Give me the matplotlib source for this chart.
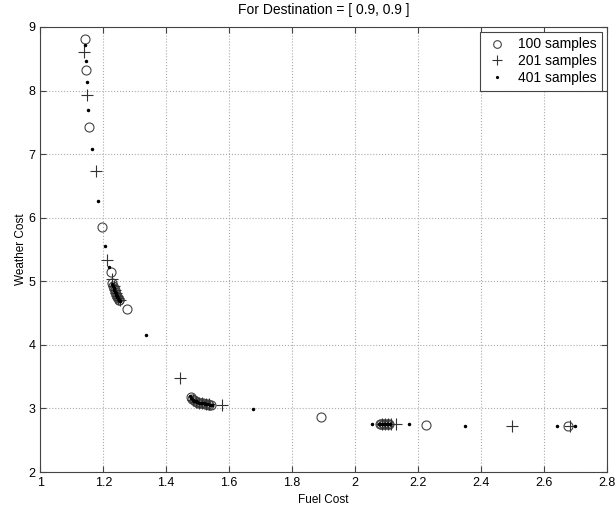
import matplotlib
matplotlib.use("Agg")
import matplotlib.pyplot as plt

plt.rcParams['font.family'] = ['Liberation Sans', 'DejaVu Sans']

# 100 samples (circles)
fuel_100 = [1.142, 1.144, 1.155, 1.197, 1.224, 1.228, 1.231, 1.234, 1.236, 1.238, 1.240,
            1.243, 1.245, 1.247, 1.249, 1.251, 1.274,
            1.478, 1.482, 1.487, 1.492, 1.497, 1.502, 1.507, 1.512, 1.517, 1.522,
            1.527, 1.532, 1.537, 1.542,
            1.891, 2.078, 2.083, 2.088, 2.093, 2.098, 2.103, 2.108, 2.225, 2.676]
weather_100 = [8.81, 8.32, 7.43, 5.86, 5.14, 4.97, 4.93, 4.89, 4.86, 4.83, 4.80,
               4.77, 4.75, 4.73, 4.71, 4.70, 4.56,
               3.18, 3.15, 3.13, 3.11, 3.10, 3.09, 3.09, 3.08, 3.08, 3.07,
               3.07, 3.07, 3.06, 3.06,
               2.86, 2.75, 2.75, 2.75, 2.75, 2.75, 2.75, 2.75, 2.74, 2.73]

# 201 samples (crosses)
fuel_201 = [1.140, 1.149, 1.176, 1.213, 1.229, 1.233, 1.237, 1.240, 1.244, 1.248, 1.252,
            1.445, 1.485, 1.495, 1.505, 1.515, 1.525, 1.535, 1.578,
            2.085, 2.095, 2.105, 2.115, 2.131, 2.497, 2.682]
weather_201 = [8.60, 7.93, 6.73, 5.34, 5.03, 4.92, 4.86, 4.81, 4.77, 4.73, 4.70,
               3.48, 3.14, 3.10, 3.09, 3.08, 3.07, 3.07, 3.05,
               2.75, 2.75, 2.75, 2.75, 2.75, 2.73, 2.73]

# 401 samples (dots)
fuel_401 = [1.142, 1.144, 1.147, 1.150, 1.163, 1.184, 1.205, 1.218,
            1.228, 1.231, 1.233, 1.235, 1.237, 1.239, 1.241, 1.243, 1.245, 1.247,
            1.249, 1.251, 1.253, 1.336,
            1.476, 1.480, 1.484, 1.489, 1.494, 1.499, 1.504, 1.509, 1.514, 1.519,
            1.524, 1.529, 1.534, 1.539, 1.544, 1.675,
            2.052, 2.075, 2.080, 2.085, 2.090, 2.095, 2.100, 2.105, 2.110,
            2.170, 2.349, 2.640, 2.697]
weather_401 = [8.71, 8.47, 8.13, 7.70, 7.08, 6.27, 5.55, 5.23,
               4.96, 4.92, 4.89, 4.86, 4.83, 4.81, 4.79, 4.77, 4.75, 4.73,
               4.71, 4.70, 4.69, 4.15,
               3.20, 3.17, 3.14, 3.12, 3.11, 3.10, 3.09, 3.09, 3.08, 3.08,
               3.07, 3.07, 3.07, 3.06, 3.06, 2.99,
               2.76, 2.75, 2.75, 2.75, 2.75, 2.75, 2.75, 2.75, 2.75,
               2.75, 2.73, 2.73, 2.72]

fig = plt.figure(figsize=(6.16, 5.12), dpi=100)
ax = fig.add_axes([0.0654, 0.0781, 0.92, 0.8692])

ax.plot(fuel_100, weather_100, 'o', mfc='none', mec='#444444', mew=0.8, ms=6.5, label='100 samples')
ax.plot(fuel_201, weather_201, '+', color='#333333', mew=0.8, ms=8, label='201 samples')
ax.plot(fuel_401, weather_401, '.', color='black', ms=3, label='401 samples')

ax.set_xlim(1, 2.8)
ax.set_ylim(2, 9)
ax.set_xticks([1, 1.2, 1.4, 1.6, 1.8, 2, 2.2, 2.4, 2.6, 2.8])
ax.set_xticklabels(['1', '1.2', '1.4', '1.6', '1.8', '2', '2.2', '2.4', '2.6', '2.8'])
ax.set_yticks(range(2, 10))
ax.grid(True, linestyle=':', color='#aaaaaa', linewidth=0.8)
ax.tick_params(direction='in', length=4, labelsize=9, color='#444444',
               top=True, right=True)
for s in ax.spines.values():
    s.set_color('#444444')
    s.set_linewidth(0.8)

ax.set_xlabel('Fuel Cost', fontsize=8.5, labelpad=4)
ax.set_ylabel('Weather Cost', fontsize=8.5, labelpad=1)
ax.set_title('For Destination = [ 0.9, 0.9 ]', fontsize=10, pad=9)

leg = ax.legend(loc='upper right', fontsize=10, fancybox=False, framealpha=1,
                edgecolor='#444444', borderaxespad=0.35, handletextpad=0.7,
                handlelength=1.6, labelspacing=0.2, borderpad=0.4, markerscale=0.85)
leg.get_frame().set_linewidth(0.8)

fig.savefig('out.png', dpi=100)
